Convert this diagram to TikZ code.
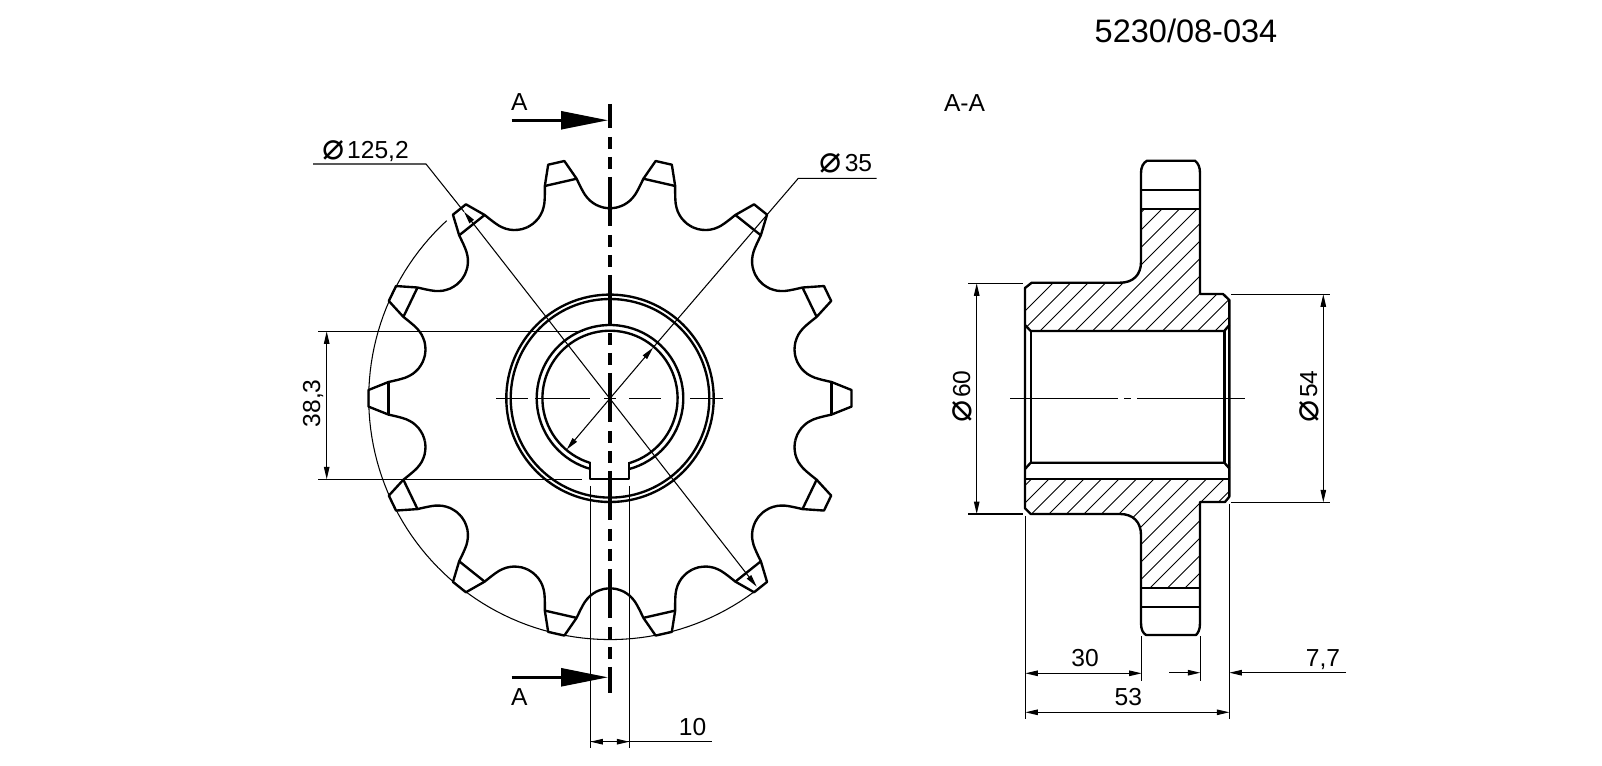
\documentclass[tikz,border=0pt]{standalone}
\usepackage{fontspec}
\setmainfont{Liberation Sans}
\newfontfamily\symfont{DejaVu Sans}
\usetikzlibrary{arrows.meta}
\newcommand{\dia}{\raisebox{-0.6pt}{\symfont\fontsize{21}{21}\selectfont ⌀}\kern1.5pt}
\tikzset{
    part/.style={line width=1.35pt, line join=round}, % contour lines
    thinl/.style={line width=0.6pt},
    hatchl/.style={line width=0.5pt},
    dim/.style={thinl, {Triangle[length=2.5mm,width=1.1mm]}-{Triangle[length=2.5mm,width=1.1mm]}},
    dimend/.style={thinl, -{Triangle[length=2.5mm,width=1.1mm]}},
    cutbar/.style={line width=1.9pt, dash pattern=on 0.98cm off 0.18cm on 0.24cm off 0.16cm on 0.24cm off 0.16cm, dash phase=0.5cm},
    cutarrow/.style={line width=1.4pt, -{Triangle[length=9.4mm,width=3.6mm]}},
    lab/.style={inner sep=0pt, anchor=base, font=\fontsize{14}{16}\selectfont}
}

\begin{document}
\begin{tikzpicture}[x=0.02cm, y=-0.02cm]
    \useasboundingbox (0,0) rectangle (1602,766);
    \coordinate (C) at (610,398.3);
    \def\rtip{241.3}

    % teeth of the sprocket
    \foreach \k in {0,...,13} {
        \begin{scope}[shift={(C)}, rotate=\k*360/14]
            \draw[part] plot[smooth] coordinates {(185.25,42.3) (187.3,36.3) (191.5,29.7) (197.3,24.4) (204.2,20.8) (212,18.5) (221.5,16.3)}
                -- (241.5,8.3) -- (241.5,-8.3) -- (221.5,-16.3)
                -- plot[smooth] coordinates {(221.5,-16.3) (212,-18.5) (204.2,-20.8) (197.3,-24.4) (191.5,-29.7) (187.3,-36.3) (185.25,-42.3)};
            \draw[part] (221.5,16.3) -- (221.5,-16.3);
        \end{scope}
    }
    \draw[thinl] plot[domain=132.6:306.5, samples=90] ({610+\rtip*cos(\x)}, {398.3-\rtip*sin(\x)});

    % hub and bore with keyway
    \draw[part] (C) circle[radius=103.7];
    \draw[part] (C) circle[radius=99.3];
    \draw[part] plot[domain=285.4:614.6, samples=80] ({610+73.3*cos(\x)}, {398.3-73.3*sin(\x)});
    \draw[part] plot[domain=287:613, samples=80] ({610+67.6*cos(\x)}, {398.3-67.6*sin(\x)});
    \draw[part] (590,462.3) -- (590,479.3) -- (629,479.3) -- (629,462.3);

    % centre line
    \foreach \a/\b in {496/528, 535/590, 604/616, 629/661, 690/723} {\draw[thinl] (\a,398.3) -- (\b,398.3);}

    % cutting plane
    \draw[cutbar] (610,104) -- (610,693);
    \draw[cutarrow] (511.7,120.3) -- (608,120.3);
    \draw[cutarrow] (511.7,677.3) -- (608,677.3);
    \node[lab] (cutTop) at (519.3,110.7) {A};
    \node[lab] (cutBot) at (519.3,705) {A};

    % leaders on the front view
    \draw[thinl] (313,164) -- (426,164) -- (464,211.7);
    \draw[thinl, -{Triangle[length=2.5mm,width=1.1mm]}] (471,220.7) -- (464,211.7);
    \draw[thinl, -{Triangle[length=2.5mm,width=1.1mm]}] (471,220.7) -- (756.7,586.7);
    \draw[thinl] (876.7,178.3) -- (798.3,178.3) -- (653,347.7);
    \draw[thinl, {Triangle[length=2.5mm,width=1.1mm]}-{Triangle[length=2.5mm,width=1.1mm]}] (653,347.7) -- (566.7,449.5);
    \node[lab] (diaTip) at (365.5,158.3) {\dia 125,2};
    \node[lab] (diaBore) at (846,171.7) {\dia 35};

    % pitch and key width
    \draw[thinl] (318,331.3) -- (583.3,331.3);
    \draw[thinl] (318,479.3) -- (581.7,479.3);
    \draw[dim] (326.7,331.3) -- (326.7,479.3);
    \node[lab, rotate=90] (pitch) at (320,403.3) {38,3};
    \draw[thinl] (590.3,486) -- (590.3,748);
    \draw[thinl] (629.3,486) -- (629.3,748);
    \draw[thinl, {Triangle[length=2.5mm,width=1.1mm]}-] (590.3,741.7) -- (711.7,741.7);
    \draw[dimend] (590.3,741.7) -- (629.3,741.7);
    \node[lab] (key) at (692.5,735) {10};

    % section view, hatching first
    \begin{scope}
        \clip (1141,209) -- (1200,209) -- (1200,294) -- (1223,294) -- (1229.3,300) -- (1229.3,325) -- (1224.3,331) -- (1030.7,331) -- (1025,325) -- (1025,288) -- (1031.7,282.7) -- (1120,282.7) .. controls (1133,282.7) and (1141,275) .. (1141,262) -- cycle;
        \foreach \s in {1336,1353.5,...,1570} {\draw[hatchl] (1000,\s-1000) -- (1250,\s-1250);}
    \end{scope}
    \begin{scope}
        \clip (1025,479) -- (1229.3,479) -- (1229.3,496.7) -- (1225,502) -- (1200,502) -- (1200,587.7) -- (1141,587.7) -- (1141,535) .. controls (1141,522) and (1133,514) .. (1120,514) -- (1030.7,514) -- (1025,508.3) -- cycle;
        \foreach \s in {1510.5,1528,...,1800} {\draw[hatchl] (1000,\s-1000) -- (1250,\s-1250);}
    \end{scope}

    \draw[part] (1200,294) -- (1200,173) .. controls (1200,167) and (1198,163) .. (1195,160.7) -- (1147,160.7) .. controls (1143,163) and (1141,167) .. (1141,173)
        -- (1141,262) .. controls (1141,275) and (1133,282.7) .. (1120,282.7) -- (1031.7,282.7) -- (1025,288) -- (1025,508.3) -- (1030.7,514)
        -- (1120,514) .. controls (1133,514) and (1141,522) .. (1141,535) -- (1141,623) .. controls (1141,630) and (1143,633) .. (1146,635)
        -- (1196,635) .. controls (1198,633) and (1200,630) .. (1200,623) -- (1200,502) -- (1225,502) -- (1229.3,496.7) -- (1229.3,300) -- (1223,294) -- cycle;
    \draw[part] (1025,325) -- (1030.7,331) -- (1224.3,331) -- (1229.3,325);
    \draw[part] (1025,469) -- (1030.7,462.7) -- (1224.3,462.7) -- (1229.3,468.3);
    \draw[part] (1030.7,331) -- (1030.7,462.7);
    \draw[part] (1224.3,331) -- (1224.3,462.7);
    \draw[part] (1025,479) -- (1229.3,479);
    \foreach \y in {190,209,587.7,606.7} {\draw[part] (1141,\y) -- (1200,\y);}
    \foreach \a/\b in {1010/1118, 1124/1131, 1137/1245} {\draw[thinl] (\a,398.3) -- (\b,398.3);}

    % dimensions of the section
    \draw[thinl] (968,283.3) -- (1022.7,283.3);
    \draw[thinl] (968,514) -- (1022.7,514);
    \draw[dim] (976.7,283.3) -- (976.7,514);
    \node[lab, rotate=90] (diaLeft) at (970,396.7) {\dia 60};
    \draw[thinl] (1231,294.3) -- (1330,294.3);
    \draw[thinl] (1231,502.3) -- (1330,502.3);
    \draw[dim] (1323.3,294.3) -- (1323.3,502.3);
    \node[lab, rotate=90] (diaRight) at (1317,396.7) {\dia 54};
    \draw[thinl] (1025.3,516) -- (1025.3,719);
    \draw[thinl] (1141.7,636) -- (1141.7,680.7);
    \draw[thinl] (1200.3,636) -- (1200.3,680.7);
    \draw[thinl] (1229.3,504) -- (1229.3,719);
    \draw[dim] (1025.3,673.3) -- (1141.7,673.3);
    \draw[dim] (1025.3,712.3) -- (1229.3,712.3);
    \draw[dimend] (1169,672.7) -- (1200.3,672.7);
    \draw[dimend] (1346,672.7) -- (1229.3,672.7);
    \node[lab] (hubLen) at (1085,666) {30};
    \node[lab] (total) at (1128.3,705) {53};
    \node[lab] (web) at (1323,666.7) {7,7};

    \node[lab] (secName) at (964.5,112) {A-A};
    \node[inner sep=0pt, anchor=base, font=\fontsize{18.5}{22}\selectfont] (title) at (1186,42.7) {5230/08-034};
\end{tikzpicture}
\end{document}
